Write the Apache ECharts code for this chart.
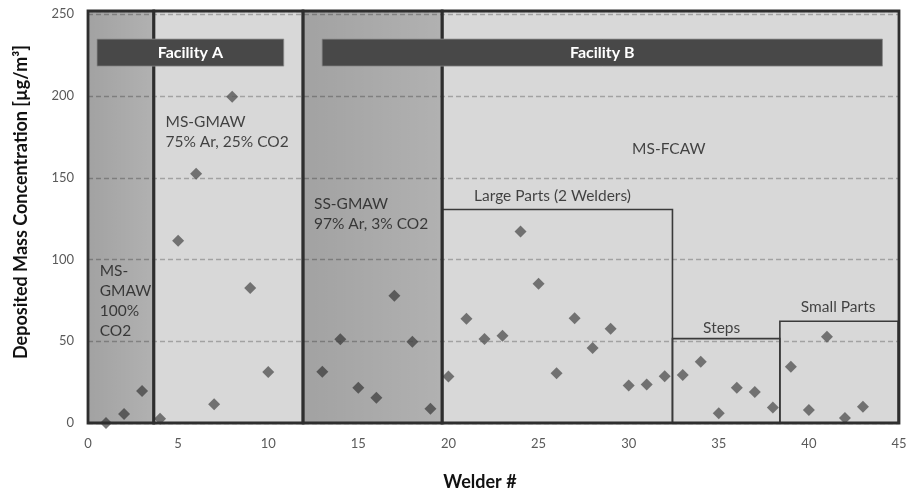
<!DOCTYPE html>
<html>
<head>
<meta charset="utf-8">
<script src="https://cdn.jsdelivr.net/npm/echarts@6/dist/echarts.min.js"></script>
<style>html,body{margin:0;padding:0;background:#fff;}#c{width:913px;height:500px;}</style>
</head>
<body>
<div id="c"></div>
<script>
// ---- data ----
const welders = [1,2,3,4,5,6,7,8,9,10,13,14,15,16,17,18,19,20,21,22,23,24,25,26,27,28,29,30,31,32,33,34,35,36,37,38,39,40,41,42,43];
const concentration = [0,5.5,19.6,2.6,111.5,152.5,11.5,199.5,82.5,31.2,31.3,51.2,21.5,15.4,77.8,49.7,8.7,28.4,63.7,51.4,53.4,117.2,85.2,30.5,64.1,45.8,57.6,23,23.5,28.6,29.4,37.4,5.9,21.5,19,9.5,34.4,7.9,52.7,3,10];
const xTicks = [0,5,10,15,20,25,30,35,40,45];
const yTicks = [0,50,100,150,200,250];
const xTitle = 'Welder #';
const yTitle = 'Deposited Mass Concentration [µg/m³]';
// process regions [x0, x1, y0, y1]
const processRegions = [[0,3.65,0,252],[3.65,11.93,0,252],[11.93,19.65,0,252],[19.65,45,0,252]];
const shadedRegions = [[0,3.65,0,252],[11.93,19.65,0,252]];
// sub groups in facility B
const subBoxes = [[19.65,32.43,0,130.6],[32.43,38.39,0,51.6],[38.39,44.95,0,62.2]];
const subBoxNames = ['Large Parts (2 Welders)','Steps','Small Parts'];
const subBoxLabelPos = [[21.42,144.9],[34.13,64.5],[39.55,77.1]];
// facility banners
const banners = [[0.5,10.86,218.3,234.8],[12.99,44.08,218.3,234.8]];
const bannerNames = ['Facility A','Facility B'];
// process annotations [x, y(top), text]
const processNotes = [
  [0.65,99.1,'MS-\nGMAW\n100%\nCO2'],
  [4.3,190.3,'MS-GMAW\n75% Ar, 25% CO2'],
  [12.54,140,'SS-GMAW\n97% Ar, 3% CO2'],
  [30.19,173.6,'MS-FCAW']
];

const FONT = 'Lato';
const chart = echarts.init(document.getElementById('c'), null, {renderer:'canvas'});

function rectFromData(api, x0, x1, y0, y1) {
  const p0 = api.coord([x0, y1]);
  const p1 = api.coord([x1, y0]);
  return {x:p0[0], y:p0[1], width:p1[0]-p0[0], height:p1[1]-p0[1]};
}

const option = {
  backgroundColor:'#ffffff',
  animation:false,
  grid:{left:88, right:14, top:11, bottom:77, show:true, backgroundColor:'#d8d8d8', borderWidth:0},
  graphic:[
    {type:'text', x:21, y:202, rotation:Math.PI/2, z:10,
      style:{text:yTitle, align:'center', verticalAlign:'middle', fill:'#111',
        font:'bold 18px ' + FONT}}
  ],
  xAxis:{
    type:'value', min:0, max:45, interval:5,
    name:xTitle, nameLocation:'middle', nameGap:50,
    nameTextStyle:{fontFamily:FONT, fontWeight:'bold', fontSize:18, color:'#111', padding:[0,27,0,0]},
    axisLine:{show:false}, axisTick:{show:false},
    axisLabel:{fontFamily:FONT, fontSize:13, color:'#5a5a5a', margin:14,
      formatter:v => xTicks.indexOf(v) >= 0 ? String(v) : ''},
    splitLine:{show:false}
  },
  yAxis:{
    type:'value', min:0, max:252, interval:50,
    axisLine:{show:false}, axisTick:{show:false},
    axisLabel:{fontFamily:FONT, fontSize:13, color:'#5a5a5a', margin:14,
      formatter:v => yTicks.indexOf(v) >= 0 ? String(v) : ''},
    splitLine:{show:true, lineStyle:{type:[5,3], color:'#a2a2a2', width:1.3}}
  },
  series:[
    {
      type:'scatter', name:'points', z:2,
      symbol:'diamond', symbolSize:12,
      itemStyle:{color:'#585858'},
      data:welders.map((w,i)=>[w, concentration[i]])
    },
    {
      type:'custom', name:'shading', z:3, clip:false, silent:true,
      data:shadedRegions,
      renderItem:(params, api) => ({
        type:'rect',
        shape:rectFromData(api, api.value(0), api.value(1), api.value(2), api.value(3)),
        style:{fill:new echarts.graphic.LinearGradient(0,0,1,0,[
          {offset:0, color:'rgba(0,0,0,0.25)'},{offset:1, color:'rgba(0,0,0,0.18)'}])}
      })
    },
    {
      type:'custom', name:'subBoxes', z:4, clip:false, silent:true,
      data:subBoxes,
      renderItem:(params, api) => ({
        type:'rect',
        shape:rectFromData(api, api.value(0), api.value(1), api.value(2), api.value(3)),
        style:{fill:'none', stroke:'#3a3a3a', lineWidth:1.6}
      })
    },
    {
      type:'custom', name:'regions', z:5, clip:false, silent:true,
      data:processRegions,
      renderItem:(params, api) => ({
        type:'rect',
        shape:rectFromData(api, api.value(0), api.value(1), api.value(2), api.value(3)),
        style:{fill:'none', stroke:'#2e2e2e', lineWidth:2.8}
      })
    },
    {
      type:'custom', name:'banners', z:6, clip:false, silent:true,
      data:banners.map((b,i)=>[b[0],b[1],b[2],b[3],i]),
      renderItem:(params, api) => {
        const s = rectFromData(api, api.value(0), api.value(1), api.value(2), api.value(3));
        return {
          type:'group',
          children:[
            {type:'rect', shape:s, style:{fill:'#484848', stroke:'#8a8a8a', lineWidth:0.8}},
            {type:'text', style:{text:bannerNames[api.value(4)], x:s.x+s.width/2, y:s.y+s.height/2,
              align:'center', verticalAlign:'middle', fill:'#ffffff',
              font:'bold 16px ' + FONT}}
          ]
        };
      }
    },
    {
      type:'scatter', name:'subLabels', z:7, silent:true, symbolSize:0,
      data:subBoxLabelPos.map((p,i)=>({value:p, name:subBoxNames[i]})),
      label:{show:true, position:[0,0], formatter:p=>p.name, fontFamily:FONT, fontSize:15.5,
        color:'#1a1a1a', align:'left', verticalAlign:'top', lineHeight:20}
    },
    {
      type:'scatter', name:'notes', z:7, silent:true, symbolSize:0,
      data:processNotes.map(n=>({value:[n[0],n[1]], name:n[2]})),
      label:{show:true, position:[0,0], formatter:p=>p.name, fontFamily:FONT, fontSize:15.5,
        color:'#1a1a1a', align:'left', verticalAlign:'top', lineHeight:20}
    }
  ]
};
chart.setOption(option);
</script>
</body>
</html>
